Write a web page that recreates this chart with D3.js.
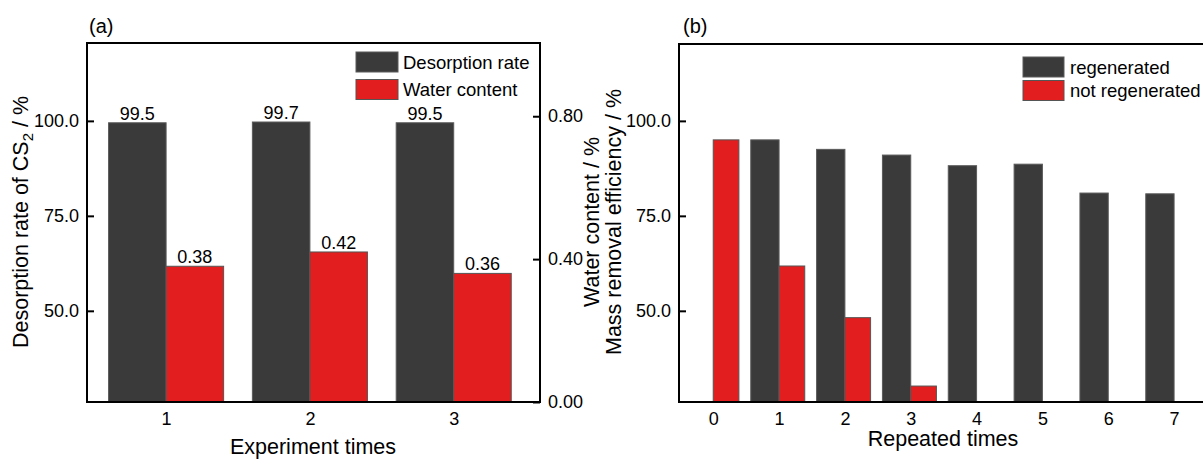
<!DOCTYPE html>
<html>
<head>
<meta charset="utf-8">
<script src="https://cdn.jsdelivr.net/npm/d3@7"></script>
<style>
  body { margin: 0; background: #fff; }
  svg { font-family: "Liberation Sans", Arial, sans-serif; }
  .frame { fill: none; stroke: #000; stroke-width: 2; }
  .tick-line { stroke: #000; stroke-width: 2; }
  .dark { fill: #3a3a3a; stroke: #5a5a5a; stroke-width: 1; }
  .red { fill: #e31e1e; stroke: #555; stroke-width: 1; }
</style>
</head>
<body>
<svg width="1203" height="459"></svg>
<script>
// panel (a)
var expTimes = [1, 2, 3];
var desorptionRate = [99.5, 99.7, 99.5];
var waterContent = [0.38, 0.42, 0.36];
var desorptionLabels = ["99.5", "99.7", "99.5"];
var waterLabels = ["0.38", "0.42", "0.36"];
var leftTicksA = [50, 75, 100];
var rightTicksA = [0, 0.4, 0.8];

// panel (b)
var repTimes = [0, 1, 2, 3, 4, 5, 6, 7];
var regenerated = [null, 95.0, 92.5, 91.0, 88.2, 88.6, 81.0, 80.8];
var notRegenerated = [95.0, 61.8, 48.2, 30.2, null, null, null, null];
var leftTicksB = [50, 75, 100];

var titleSize = 21.5;

var svg = d3.select('svg');
svg.append('rect').attr('width', 1203).attr('height', 459).attr('fill', '#fff');

function drawLeftAxis(g, scale, ticks, x0, fmt) {
  var ax = g.append('g').attr('transform', 'translate(' + x0 + ',0)')
    .call(d3.axisLeft(scale).tickValues(ticks).tickFormat(fmt).tickSizeInner(-7).tickSizeOuter(0).tickPadding(8));
  ax.select('.domain').remove();
  ax.selectAll('.tick line').attr('class', 'tick-line');
  ax.selectAll('.tick text').attr('font-size', 18).attr('fill', '#000');
  return ax;
}

/* ---------- panel (a) ---------- */
var xA = d3.scaleLinear().domain([0.45, 3.6]).range([87, 540]);
var yA = d3.scaleLinear().domain([26, 120.5]).range([402, 43]);
var yA2 = d3.scaleLinear().domain([0, 1.005]).range([402, 43]);
var gA = svg.append('g');

gA.selectAll('rect.dark').data(expTimes).enter().append('rect')
  .attr('class', 'dark')
  .attr('x', function(d) { return xA(d - 0.4); })
  .attr('width', function(d) { return xA(d) - xA(d - 0.4); })
  .attr('y', function(d, i) { return yA(desorptionRate[i]); })
  .attr('height', function(d, i) { return yA(26) - yA(desorptionRate[i]); });

gA.selectAll('rect.red').data(expTimes).enter().append('rect')
  .attr('class', 'red')
  .attr('x', function(d) { return xA(d); })
  .attr('width', function(d) { return xA(d + 0.4) - xA(d); })
  .attr('y', function(d, i) { return yA2(waterContent[i]); })
  .attr('height', function(d, i) { return yA2(0) - yA2(waterContent[i]); });

gA.selectAll('text.dlab').data(expTimes).enter().append('text')
  .attr('x', function(d) { return xA(d - 0.2); })
  .attr('y', function(d, i) { return yA(desorptionRate[i]) - 3; })
  .attr('text-anchor', 'middle').attr('font-size', 18)
  .text(function(d, i) { return desorptionLabels[i]; });

gA.selectAll('text.wlab').data(expTimes).enter().append('text')
  .attr('x', function(d) { return xA(d + 0.2); })
  .attr('y', function(d, i) { return yA2(waterContent[i]) - 3; })
  .attr('text-anchor', 'middle').attr('font-size', 18)
  .text(function(d, i) { return waterLabels[i]; });

drawLeftAxis(gA, yA, leftTicksA, 87, d3.format('.1f'));

var axR = gA.append('g').attr('transform', 'translate(540,0)')
  .call(d3.axisRight(yA2).tickValues(rightTicksA).tickFormat(d3.format('.2f')).tickSizeInner(-7).tickSizeOuter(0).tickPadding(8));
axR.select('.domain').remove();
axR.selectAll('.tick line').attr('class', 'tick-line');
axR.selectAll('.tick text').attr('font-size', 18).attr('fill', '#000');

var axBA = gA.append('g').attr('transform', 'translate(0,402)')
  .call(d3.axisBottom(xA).tickValues(expTimes).tickFormat(d3.format('d')).tickSize(0).tickPadding(10));
axBA.select('.domain').remove();
axBA.selectAll('.tick text').attr('font-size', 18).attr('fill', '#000');

gA.append('rect').attr('class', 'frame')
  .attr('x', 87).attr('y', 43).attr('width', 453).attr('height', 359);

gA.append('text').attr('x', 89).attr('y', 33).attr('font-size', 20).text('(a)');

gA.append('text').attr('transform', 'translate(28,222) rotate(-90)')
  .attr('text-anchor', 'middle').attr('font-size', titleSize)
  .call(function(t) {
    t.append('tspan').text('Desorption rate of CS');
    t.append('tspan').attr('font-size', 15).attr('dy', 5).text('2');
    t.append('tspan').attr('dy', -5).text(' / %');
  });

gA.append('text').attr('transform', 'translate(599,222) rotate(-90)')
  .attr('text-anchor', 'middle').attr('font-size', titleSize).text('Water content / %');

gA.append('text').attr('x', 313).attr('y', 454)
  .attr('text-anchor', 'middle').attr('font-size', titleSize).text('Experiment times');

var legA = [['dark', 'Desorption rate'], ['red', 'Water content']];
var lgA = gA.selectAll('g.leg').data(legA).enter().append('g')
  .attr('transform', function(d, i) { return 'translate(356,' + (52 + i * 27.5) + ')'; });
lgA.append('rect').attr('class', function(d) { return d[0]; })
  .attr('width', 42).attr('height', 20);
lgA.append('text').attr('x', 47).attr('y', 16.5).attr('font-size', 18.5)
  .text(function(d) { return d[1]; });

/* ---------- panel (b) ---------- */
var xB = d3.scaleLinear().domain([-0.52, 7.5]).range([679, 1207]);
var yB = d3.scaleLinear().domain([26, 120.5]).range([402, 43]);
var gB = svg.append('g');

gB.selectAll('rect.dark').data(repTimes.filter(function(d, i) { return regenerated[i] != null; }))
  .enter().append('rect')
  .attr('class', 'dark')
  .attr('x', function(d) { return xB(d - 0.43); })
  .attr('width', function(d) { return xB(d) - xB(d - 0.43); })
  .attr('y', function(d) { return yB(regenerated[d]); })
  .attr('height', function(d) { return yB(26) - yB(regenerated[d]); });

gB.selectAll('rect.red').data(repTimes.filter(function(d, i) { return notRegenerated[i] != null; }))
  .enter().append('rect')
  .attr('class', 'red')
  .attr('x', function(d) { return xB(d); })
  .attr('width', function(d) { return xB(d + 0.39) - xB(d); })
  .attr('y', function(d) { return yB(notRegenerated[d]); })
  .attr('height', function(d) { return yB(26) - yB(notRegenerated[d]); });

drawLeftAxis(gB, yB, leftTicksB, 679, d3.format('.1f'));

var axBB = gB.append('g').attr('transform', 'translate(0,402)')
  .call(d3.axisBottom(xB).tickValues(repTimes).tickFormat(d3.format('d')).tickSize(0).tickPadding(10));
axBB.select('.domain').remove();
axBB.selectAll('.tick text').attr('font-size', 18).attr('fill', '#000');

gB.append('rect').attr('class', 'frame')
  .attr('x', 679).attr('y', 44).attr('width', 528).attr('height', 358);

gB.append('text').attr('x', 683).attr('y', 33).attr('font-size', 20).text('(b)');

gB.append('text').attr('transform', 'translate(621,222) rotate(-90)')
  .attr('text-anchor', 'middle').attr('font-size', titleSize).text('Mass removal efficiency / %');

gB.append('text').attr('x', 943).attr('y', 446)
  .attr('text-anchor', 'middle').attr('font-size', titleSize).text('Repeated times');

var legB = [['dark', 'regenerated'], ['red', 'not regenerated']];
var lgB = gB.selectAll('g.leg').data(legB).enter().append('g')
  .attr('transform', function(d, i) { return 'translate(1023,' + (57 + i * 23.5) + ')'; });
lgB.append('rect').attr('class', function(d) { return d[0]; })
  .attr('width', 41).attr('height', 20);
lgB.append('text').attr('x', 47).attr('y', 16.5).attr('font-size', 18.5)
  .text(function(d) { return d[1]; });
</script>
</body>
</html>
